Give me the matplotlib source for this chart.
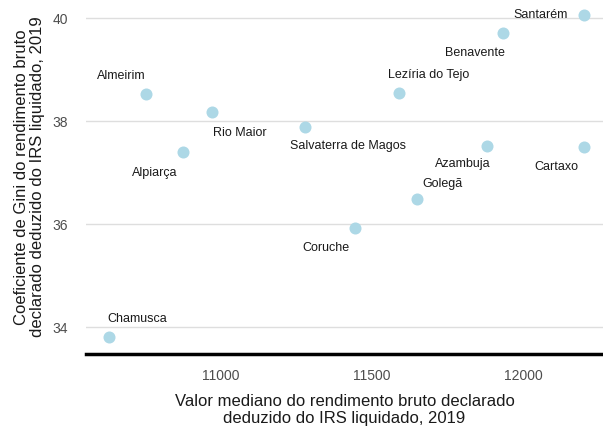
import matplotlib
matplotlib.use('Agg')
import matplotlib.pyplot as plt

plt.rcParams['font.family'] = ['Liberation Sans', 'DejaVu Sans']

municipios = ["Chamusca", "Almeirim", "Rio Maior", "Alpiarça", "Salvaterra de Magos",
              "Coruche", "Lezíria do Tejo", "Golegã", "Azambuja", "Benavente",
              "Santarém", "Cartaxo"]
rendimento = [10629, 10751, 10970, 10873, 11277, 11444, 11590, 11650, 11882, 11933, 12202, 12202]
gini = [33.81, 38.52, 38.17, 37.40, 37.89, 35.93, 38.55, 36.49, 37.51, 39.71, 40.06, 37.50]

# label offsets in pixels (dx, dy)
offsets = [(28, 18), (-25, 18), (28, -21), (-28, -21), (43, -19), (-29, -20),
           (29, 18), (25, 15), (-25, -18), (-28, -20), (-43, 0), (-28, -20)]

fig = plt.figure(figsize=(6.03, 4.26), dpi=100)
ax = fig.add_axes([86 / 603, 1 - 354 / 426, 1 - 86 / 603, 354 / 426])

ax.scatter(rendimento, gini, s=75, color='#add8e6', zorder=3, linewidths=0)
for nome, x, y, (dx, dy) in zip(municipios, rendimento, gini, offsets):
    ax.annotate(nome, (x, y), xytext=(dx, dy), textcoords='offset pixels',
                ha='center', va='center', fontsize=9, color='#1a1a1a')

ax.set_xlim(10553, 12265)
ax.set_ylim(33.476, 40.35)
ax.set_xticks([11000, 11500, 12000])
ax.set_yticks([34, 36, 38, 40])
ax.grid(axis='y', color='#dedede', linewidth=1)
ax.set_axisbelow(True)
for side in ['top', 'right', 'left']:
    ax.spines[side].set_visible(False)
ax.spines['bottom'].set_linewidth(2.5)
ax.spines['bottom'].set_color('black')
ax.tick_params(axis='both', length=0, labelsize=10, labelcolor='#4d4d4d')
ax.tick_params(axis='x', pad=11)
ax.tick_params(axis='y', pad=13)

ax.set_xlabel("Valor mediano do rendimento bruto declarado\ndeduzido do IRS liquidado, 2019",
              fontsize=12, color='#1a1a1a', labelpad=8, linespacing=1.15)
ax.set_ylabel("Coeficiente de Gini do rendimento bruto\ndeclarado deduzido do IRS liquidado, 2019",
              fontsize=12, color='#1a1a1a', labelpad=5, linespacing=1.15)

plt.savefig('out.png', dpi=100)
